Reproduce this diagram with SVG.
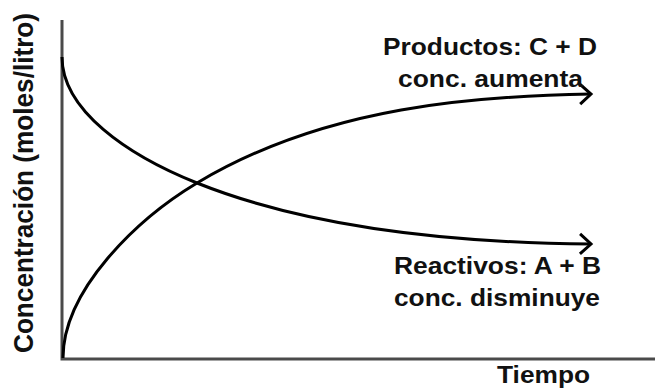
<svg xmlns="http://www.w3.org/2000/svg" width="655" height="388" viewBox="0 0 655 388">
  <style>
    .axis { stroke: #4a4a4a; stroke-width: 3; fill: none; }
    .curve { stroke: #000; stroke-width: 3; fill: none; }
    .lbl { font-family: "Liberation Sans", Arial, sans-serif; font-weight: bold; font-size: 24px; fill: #111; }
  </style>
  <defs>
    <marker id="chev" markerUnits="userSpaceOnUse" markerWidth="30" markerHeight="30" refX="0" refY="0" viewBox="-15 -15 30 30" orient="auto" overflow="visible">
      <path d="M -11 -10 L 0 0 L -11 10" fill="none" stroke="#000" stroke-width="3" stroke-linejoin="miter"/>
    </marker>
  </defs>
  <rect width="655" height="388" fill="#fff"/>
  <g id="axes">
    <path class="axis" d="M 62 20 L 62 359 L 655 359"/>
  </g>
  <g id="connectors">
    <path class="curve" d="M 63 358 C 63 290, 137 219, 197 183 C 327 105, 480 96, 591 94" marker-end="url(#chev)"/>
    <path class="curve" d="M 62 57 C 62 110, 127 155, 197 183 C 317 231, 470 243, 591 244" marker-end="url(#chev)"/>
  </g>
  <g id="productos">
    <text class="lbl" x="383" y="55" textLength="214" lengthAdjust="spacingAndGlyphs">Productos: C + D</text>
    <text class="lbl" x="398" y="87" textLength="185" lengthAdjust="spacingAndGlyphs">conc. aumenta</text>
  </g>
  <g id="reactivos">
    <text class="lbl" x="394" y="274" textLength="207" lengthAdjust="spacingAndGlyphs">Reactivos: A + B</text>
    <text class="lbl" x="394" y="306" textLength="206" lengthAdjust="spacingAndGlyphs">conc. disminuye</text>
  </g>
  <g id="tiempo">
    <text class="lbl" x="497" y="383" textLength="93" lengthAdjust="spacingAndGlyphs">Tiempo</text>
  </g>
  <g id="ylabel">
    <text class="lbl" style="font-size:27px" transform="translate(33 353) rotate(-90)" x="0" y="0" textLength="340" lengthAdjust="spacingAndGlyphs">Concentración (moles/litro)</text>
  </g>
</svg>
